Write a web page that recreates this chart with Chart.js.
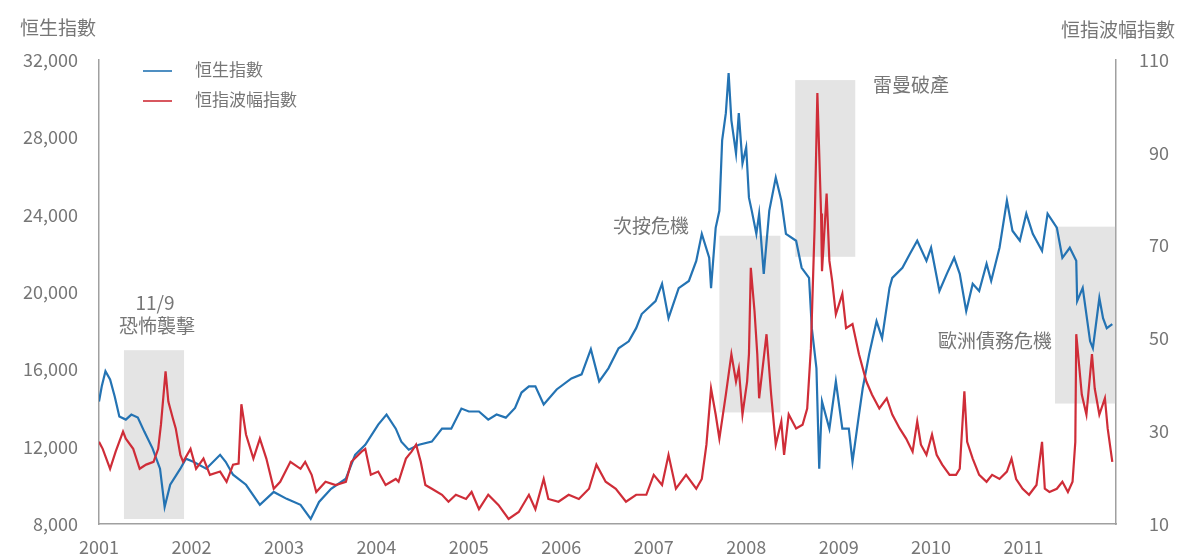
<!DOCTYPE html>
<html>
<head>
<meta charset="utf-8">
<script src="https://cdn.jsdelivr.net/npm/chart.js@4.4.1/dist/chart.umd.min.js"></script>
<style>
  html, body { margin: 0; padding: 0; background: #fff; }
</style>
</head>
<body>
<canvas id="myChart" width="1177" height="557"></canvas>
<script>
// 恒生指數 (HSI)
const hsiDates = [2001.00, 2001.03, 2001.07, 2001.12, 2001.17, 2001.22, 2001.29, 2001.35, 2001.42, 2001.49,
  2001.58, 2001.66, 2001.71, 2001.77, 2001.88, 2001.94, 2002.02, 2002.16, 2002.31, 2002.37,
  2002.45, 2002.59, 2002.74, 2002.89, 2003.03, 2003.18, 2003.29, 2003.38, 2003.51, 2003.67,
  2003.77, 2003.88, 2004.02, 2004.11, 2004.21, 2004.27, 2004.35, 2004.46, 2004.60, 2004.71,
  2004.81, 2004.92, 2005.00, 2005.11, 2005.21, 2005.30, 2005.40, 2005.50, 2005.57, 2005.65,
  2005.72, 2005.81, 2005.95, 2006.11, 2006.22, 2006.32, 2006.41, 2006.51, 2006.62, 2006.73,
  2006.81, 2006.87, 2007.02, 2007.09, 2007.16, 2007.27, 2007.38, 2007.46, 2007.52, 2007.60,
  2007.62, 2007.67, 2007.71, 2007.74, 2007.78, 2007.81, 2007.84, 2007.89, 2007.92, 2007.96,
  2008.00, 2008.03, 2008.06, 2008.11, 2008.14, 2008.19, 2008.25, 2008.32, 2008.38, 2008.43,
  2008.54, 2008.60, 2008.68, 2008.71, 2008.76, 2008.79, 2008.82, 2008.90, 2008.97, 2009.04,
  2009.11, 2009.15, 2009.22, 2009.26, 2009.33, 2009.41, 2009.47, 2009.55, 2009.58, 2009.69,
  2009.77, 2009.85, 2009.95, 2010.00, 2010.09, 2010.17, 2010.25, 2010.31, 2010.38, 2010.45,
  2010.52, 2010.60, 2010.65, 2010.74, 2010.82, 2010.88, 2010.96, 2011.03, 2011.10, 2011.20,
  2011.26, 2011.36, 2011.42, 2011.50, 2011.57, 2011.58, 2011.64, 2011.72, 2011.75, 2011.82,
  2011.86, 2011.90, 2011.96];
const hsiValues = [14340, 15120, 15900, 15480, 14600, 13560, 13400, 13660, 13510, 12780,
  11900, 10860, 8880, 10030, 10860, 11380, 11220, 10860, 11580, 11220,
  10550, 10030, 8990, 9660, 9300, 8990, 8260, 9140, 9820, 10340,
  11580, 12100, 13140, 13660, 12930, 12260, 11840, 12100, 12260, 12930,
  12930, 13970, 13820, 13820, 13400, 13660, 13500, 14000, 14800, 15120,
  15120, 14180, 14960, 15530, 15740, 17040, 15380, 16050, 17090, 17450,
  18130, 18860, 19530, 20420, 18650, 20200, 20570, 21610, 23010, 21770,
  20200, 23320, 24200, 27840, 29250, 31320, 28880, 27170, 29250, 26650,
  27480, 24880, 24210, 23010, 24050, 20930, 24210, 25920, 24730, 23010,
  22650, 21250, 20730, 18130, 16050, 10860, 14340, 12930, 15380, 12930,
  12930, 11220, 13660, 15010, 16780, 18490, 17610, 20210, 20730, 21250,
  21970, 22650, 21610, 22290, 20050, 20940, 21770, 20940, 19010, 20420,
  20050, 21460, 20570, 22290, 24730, 23170, 22650, 24050, 23010, 22130,
  24050, 23330, 21770, 22290, 21610, 19530, 20210, 17450, 17090, 19690,
  18650, 18130, 18340];

// 恒指波幅指數 (VHSI)
const vhsiDates = [2001.00, 2001.04, 2001.12, 2001.18, 2001.26, 2001.29, 2001.37, 2001.44, 2001.51, 2001.59,
  2001.64, 2001.67, 2001.72, 2001.75, 2001.80, 2001.83, 2001.88, 2001.91, 2001.99, 2002.05,
  2002.13, 2002.20, 2002.31, 2002.38, 2002.45, 2002.51, 2002.54, 2002.59, 2002.67, 2002.74,
  2002.81, 2002.89, 2002.96, 2003.07, 2003.18, 2003.23, 2003.30, 2003.35, 2003.45, 2003.56,
  2003.67, 2003.73, 2003.84, 2003.88, 2003.94, 2004.02, 2004.10, 2004.21, 2004.24, 2004.32,
  2004.38, 2004.43, 2004.48, 2004.53, 2004.60, 2004.71, 2004.78, 2004.86, 2004.97, 2005.03,
  2005.11, 2005.21, 2005.32, 2005.43, 2005.54, 2005.65, 2005.72, 2005.81, 2005.86, 2005.97,
  2006.08, 2006.19, 2006.30, 2006.38, 2006.48, 2006.59, 2006.70, 2006.81, 2006.92, 2007.00,
  2007.09, 2007.16, 2007.24, 2007.35, 2007.46, 2007.52, 2007.57, 2007.62, 2007.67, 2007.71,
  2007.78, 2007.84, 2007.89, 2007.92, 2007.96, 2008.01, 2008.03, 2008.05, 2008.09, 2008.12,
  2008.14, 2008.22, 2008.27, 2008.32, 2008.38, 2008.41, 2008.46, 2008.54, 2008.61, 2008.66,
  2008.70, 2008.74, 2008.77, 2008.81, 2008.82, 2008.87, 2008.90, 2008.93, 2008.97, 2009.04,
  2009.08, 2009.15, 2009.22, 2009.30, 2009.36, 2009.44, 2009.52, 2009.58, 2009.66, 2009.73,
  2009.80, 2009.85, 2009.89, 2009.95, 2010.01, 2010.06, 2010.12, 2010.20, 2010.27, 2010.31,
  2010.36, 2010.39, 2010.45, 2010.52, 2010.60, 2010.66, 2010.74, 2010.82, 2010.87, 2010.92,
  2010.99, 2011.06, 2011.14, 2011.20, 2011.23, 2011.28, 2011.36, 2011.42, 2011.48, 2011.53,
  2011.56, 2011.57, 2011.63, 2011.68, 2011.74, 2011.77, 2011.82, 2011.88, 2011.91, 2011.96];
const vhsiValues = [27.7, 26.2, 21.9, 25.6, 29.9, 28.4, 26.2, 21.9, 22.8, 23.4,
  26.2, 31.4, 42.9, 36.4, 32.7, 30.6, 24.9, 23.4, 26.2, 21.9,
  24.1, 20.6, 21.3, 19.1, 22.8, 23.0, 35.8, 29.3, 24.1, 28.4,
  24.1, 17.6, 19.1, 23.4, 21.9, 23.4, 20.6, 16.9, 19.1, 18.4,
  19.1, 23.4, 25.6, 26.2, 20.6, 21.3, 18.4, 19.7, 19.1, 24.1,
  25.6, 27.1, 23.4, 18.4, 17.6, 16.3, 14.8, 16.3, 15.4, 16.9,
  13.2, 16.3, 14.1, 11.1, 12.6, 16.3, 13.2, 19.7, 15.4, 14.8,
  16.3, 15.4, 17.6, 22.8, 19.1, 17.6, 14.8, 16.3, 16.3, 20.6,
  18.4, 24.9, 17.6, 20.6, 17.6, 19.7, 27.1, 39.2, 33.6, 28.4,
  37.9, 46.6, 40.7, 43.5, 33.6, 40.7, 46.6, 65.2, 55.9, 46.6,
  37.1, 50.9, 37.9, 27.1, 32.1, 24.9, 33.6, 30.6, 31.4, 34.9,
  47.9, 73.9, 102.9, 76.9, 64.5, 81.2, 66.7, 62.4, 55.2, 59.6,
  52.2, 53.1, 46.6, 40.7, 37.9, 34.9, 37.1, 33.6, 30.6, 28.4,
  25.6, 32.1, 27.1, 24.9, 29.3, 24.9, 22.8, 20.6, 20.6, 21.9,
  38.6, 27.7, 24.1, 20.6, 19.1, 20.6, 19.7, 21.3, 24.1, 19.7,
  17.6, 16.3, 18.4, 27.7, 17.6, 16.9, 17.6, 19.1, 16.9, 19.1,
  27.7, 50.9, 37.9, 33.6, 46.6, 39.2, 33.6, 37.1, 30.6, 23.4];

const yearLabels = ['2001', '2002', '2003', '2004', '2005', '2006', '2007', '2008', '2009', '2010', '2011'];

// shaded events
const eventNames = ['恐怖襲擊', '次按危機', '雷曼破產', '歐洲債務危機'];
const eventStart = [2001.27, 2007.71, 2008.53, 2011.34];
const eventEnd = [2001.92, 2008.37, 2009.18, 2011.99];

// layout of boxes (HSI units) and labels (pixels)
const boxRange = [[8260, 16990], [13770, 22910], [21820, 30960], [14230, 23380]];
const labelPos = [[157, 326], [651, 226], [911, 85], [995, 341]];

const FONT = '"Noto Sans CJK TC", "Noto Sans", sans-serif';
const TEXT = '#767676';

const extras = {
  id: 'extras',
  beforeDatasetsDraw(chart) {
    const {ctx, scales: {x, yHsi}} = chart;
    ctx.save();
    ctx.fillStyle = '#e4e4e4';
    eventStart.forEach((s, i) => {
      const l = x.getPixelForValue(s);
      const r = x.getPixelForValue(eventEnd[i]);
      const t = yHsi.getPixelForValue(boxRange[i][1]);
      const b = yHsi.getPixelForValue(boxRange[i][0]);
      ctx.fillRect(l, t, r - l, b - t);
    });
    ctx.restore();
  },
  afterDraw(chart) {
    const ctx = chart.ctx;
    ctx.save();
    ctx.fillStyle = TEXT;
    ctx.textBaseline = 'middle';
    // axis titles
    ctx.font = '19px ' + FONT;
    ctx.textAlign = 'left';
    ctx.fillText('恒生指數', 20, 28);
    ctx.textAlign = 'right';
    ctx.fillText('恒指波幅指數', 1175, 30);
    // event labels
    ctx.textAlign = 'center';
    ctx.fillText('11/9', 155, 303);
    eventNames.forEach((n, i) => ctx.fillText(n, labelPos[i][0], labelPos[i][1]));
    // legend
    ctx.font = '17px ' + FONT;
    ctx.textAlign = 'left';
    chart.data.datasets.forEach((ds, i) => {
      const y = 71 + i * 30;
      ctx.strokeStyle = ds.borderColor;
      ctx.lineWidth = 1.6;
      ctx.beginPath();
      ctx.moveTo(143, y);
      ctx.lineTo(172, y);
      ctx.stroke();
      ctx.fillText(ds.label, 195, y - 1);
    });
    ctx.restore();
  }
};

const ctx = document.getElementById('myChart').getContext('2d');
const chart = new Chart(ctx, {
  type: 'line',
  data: {
    datasets: [{
      label: '恒生指數',
      data: hsiDates.map((d, i) => ({x: d, y: hsiValues[i]})),
      borderColor: '#2473b3',
      borderWidth: 2.2,
      pointRadius: 0,
      yAxisID: 'yHsi',
      order: 1
    }, {
      label: '恒指波幅指數',
      data: vhsiDates.map((d, i) => ({x: d, y: vhsiValues[i]})),
      borderColor: '#cf2d38',
      borderWidth: 2.2,
      pointRadius: 0,
      yAxisID: 'yVhsi',
      order: 0
    }]
  },
  options: {
    responsive: false,
    animation: false,
    layout: {padding: {top: 60, right: 8, left: 0, bottom: 0}},
    plugins: {legend: {display: false}, tooltip: {enabled: false}},
    scales: {
      x: {
        type: 'linear',
        min: 2001, max: 2012,
        grid: {display: false, drawTicks: false},
        border: {color: '#a0a0a0', width: 1.5},
        ticks: {
          stepSize: 1, padding: 12, color: TEXT,
          font: {family: FONT, size: 18},
          callback: v => yearLabels[v - 2001] || ''
        },
        afterFit: s => { s.height = 33; }
      },
      yHsi: {
        position: 'left',
        min: 8000, max: 32000,
        grid: {display: false, drawTicks: false},
        border: {color: '#a0a0a0', width: 1.5},
        ticks: {
          stepSize: 4000, padding: 21, color: TEXT,
          font: {family: FONT, size: 18},
          callback: v => v.toLocaleString('en-US')
        },
        afterFit: s => { s.width = 99; }
      },
      yVhsi: {
        position: 'right',
        min: 10, max: 110,
        grid: {display: false, drawTicks: false},
        border: {color: '#a0a0a0', width: 1.5},
        ticks: {
          stepSize: 20, color: TEXT, crossAlign: 'far',
          font: {family: FONT, size: 18}
        },
        afterFit: s => { s.width = 53; }
      }
    }
  },
  plugins: [extras]
});
</script>
</body>
</html>
